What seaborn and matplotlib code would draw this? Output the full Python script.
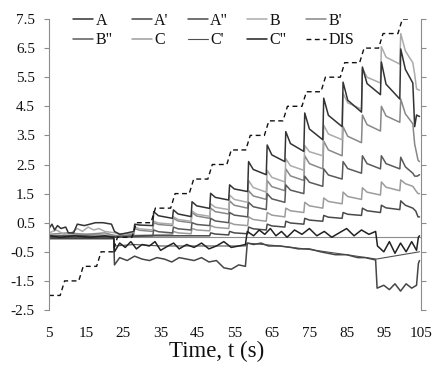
import matplotlib
matplotlib.use("Agg")
import matplotlib.pyplot as plt
import seaborn as sns
import pandas as pd

# ---------------- data ----------------
# times (s) at which the load steps / response jumps occur
JUMPS = [8.6, 13.6, 18.4, 22.8, 27.9, 33.0, 38.3, 43.3, 48.3, 53.4,
         58.5, 63.5, 68.5, 73.6, 78.7, 83.9, 89.1, 94.2, 99.4]
LAST_TROUGH_T = 102.8

DIS_t = [5, 8.0, 9.2, 13.0, 14.2, 17.8, 19.0, 22.2, 23.4, 27.3, 28.5, 32.4, 33.6,
         37.7, 38.9, 42.7, 43.9, 47.7, 48.9, 52.8, 54.0, 57.9, 59.1, 62.9, 64.1,
         67.9, 69.1, 73.0, 74.2, 78.1, 79.3, 83.3, 84.5, 88.5, 89.7, 93.6, 94.8,
         98.8, 100.0, 101.8]
DIS_v = [-2, -2, -1.5, -1.5, -1, -1, -0.5, -0.5, 0, 0, 0.5, 0.5, 1, 1, 1.5, 1.5,
         2, 2, 2.5, 2.5, 3, 3, 3.5, 3.5, 4, 4, 4.5, 4.5, 5, 5, 5.5, 5.5, 6, 6,
         6.5, 6.5, 7, 7, 7.5, 7.5]

# A : top dark saw-tooth
A_lead = [(5, 0.3), (5.8, 0.45), (6.5, 0.25), (7.3, 0.4), (8.2, 0.3), (9.5, 0.35),
          (10.2, 0.15), (11.6, 0.15), (12.6, 0.45), (14.5, 0.4), (16.0, 0.45),
          (17.5, 0.5), (19.5, 0.5), (21.8, 0.45), (22.6, 0.2), (24.0, 0.1),
          (26.0, 0.15), (27.8, 0.2)]
A_start = 4
A_peak = [0.45, 0.88, 0.94, 1.22, 1.51, 1.80, 2.60, 3.17, 3.63, 4.27, 4.78, 5.33, 5.85, 6.02, 6.47]
A_knee = [0.42, 0.74, 0.80, 1.08, 1.37, 1.66, 2.33, 2.83, 3.22, 3.72, 4.19, 4.71, 5.28, 5.26, 5.77]
A_trough = [0.40, 0.65, 0.71, 0.99, 1.28, 1.57, 2.15, 2.60, 2.95, 3.35, 3.80, 4.30, 4.90, 4.75, 5.30]
A_tail = [(103.3, 3.8), (103.8, 4.2), (104.6, 4.15)]

# B : light grey saw-tooth
B_lead = [(5, 0.15), (7, 0.25), (9, 0.1), (11, 0.15), (12.6, 0.3), (14, 0.2),
          (15.5, 0.35), (17, 0.25), (18.4, 0.3), (20, 0.2), (22.8, 0.15), (25, 0.1),
          (27.8, 0.15)]
B_start = 4
B_peak = [0.35, 0.55, 0.70, 0.90, 1.15, 1.45, 1.95, 2.30, 2.70, 3.15, 3.85, 4.95, 5.80, 6.55, 7.00]
B_knee = [0.29, 0.49, 0.61, 0.79, 1.03, 1.30, 1.71, 2.06, 2.46, 2.94, 3.55, 4.62, 5.50, 6.19, 6.40]
B_trough = [0.25, 0.45, 0.55, 0.72, 0.95, 1.20, 1.55, 1.90, 2.30, 2.80, 3.35, 4.40, 5.30, 5.95, 6.00]
B_tail = [(103.3, 5.6), (103.8, 5.1), (104.6, 5.05)]

# B' : medium grey saw-tooth
B1_lead = [(5, 0.1), (10, 0.15), (15, 0.1), (20, 0.15), (22.8, 0.05), (27.8, 0.1)]
B1_start = 4
B1_peak = [0.30, 0.50, 0.65, 0.85, 1.00, 1.25, 1.60, 1.95, 2.35, 2.80, 3.30, 3.80, 4.20, 4.50, 4.75]
B1_knee = [0.24, 0.44, 0.56, 0.73, 0.88, 1.10, 1.42, 1.74, 2.11, 2.53, 3.00, 3.47, 3.87, 4.17, 4.24]
B1_trough = [0.20, 0.40, 0.50, 0.65, 0.80, 1.00, 1.30, 1.60, 1.95, 2.35, 2.80, 3.25, 3.65, 3.95, 3.90]
B1_tail = [(103.3, 3.2), (104.2, 2.65), (104.6, 2.6)]

# B" : dark grey saw-tooth
B2_lead = [(5, 0.05), (15, 0.05), (22.8, 0.0), (32.9, 0.05)]
B2_start = 5
B2_peak = [0.25, 0.35, 0.50, 0.65, 0.85, 1.20, 1.50, 1.80, 2.10, 2.35, 2.60, 2.80, 2.80, 2.75]
B2_knee = [0.19, 0.29, 0.44, 0.56, 0.76, 1.05, 1.32, 1.62, 1.89, 2.14, 2.36, 2.53, 2.53, 2.42]
B2_trough = [0.15, 0.25, 0.40, 0.50, 0.70, 0.95, 1.20, 1.50, 1.75, 2.00, 2.20, 2.35, 2.35, 2.20]
B2_tail = [(103.3, 2.1), (104.0, 2.1), (104.6, 2.15)]

# C : grey saw-tooth
C_lead = [(5, 0.05), (15, 0.1), (25, 0.05), (38.2, 0.1)]
C_start = 6
C_peak = [0.20, 0.30, 0.40, 0.50, 0.70, 0.85, 1.00, 1.20, 1.35, 1.55, 1.70, 1.90, 1.97]
C_knee = [0.15, 0.25, 0.34, 0.44, 0.61, 0.76, 0.91, 1.08, 1.23, 1.40, 1.55, 1.72, 1.84]
C_trough = [0.12, 0.22, 0.30, 0.40, 0.55, 0.70, 0.85, 1.00, 1.15, 1.30, 1.45, 1.60, 1.75]
C_tail = [(103.6, 1.6), (104.2, 1.5), (104.6, 1.5)]

# A" : small dark saw-tooth
A2_lead = [(5, 0.0), (20, 0.0), (30, 0.05), (48.2, 0.05)]
A2_start = 8
A2_peak = [0.15, 0.20, 0.35, 0.45, 0.55, 0.65, 0.75, 0.85, 1.00, 1.10, 1.25]
A2_knee = [0.11, 0.15, 0.29, 0.39, 0.49, 0.59, 0.69, 0.79, 0.91, 1.01, 1.10]
A2_trough = [0.08, 0.12, 0.25, 0.35, 0.45, 0.55, 0.65, 0.75, 0.85, 0.95, 1.00]
A2_tail = [(103.6, 0.9), (104.2, 0.7), (104.6, 0.7)]

# C" : black, bumpy around zero
C2_pts = [(5, 0.05), (8, 0.0), (12, 0.05), (16, 0.0), (20, 0.05), (22.4, 0.0),
          (22.6, -0.5), (24, -0.2), (25.5, -0.35), (27, -0.15), (28.5, -0.4),
          (30, -0.25), (32, -0.3), (33.5, -0.15), (35, -0.45), (37, -0.3),
          (38.5, -0.2), (40, -0.4), (42, -0.25), (44, -0.35), (46, -0.2),
          (48, -0.4), (50, -0.3), (52, -0.15), (54, -0.35), (56, -0.3),
          (57.8, -0.25), (58.3, 0.2), (60, 0.05), (61.5, 0.25), (63, 0.1),
          (64.5, 0.3), (66, 0.05), (67.5, 0.2), (69, 0.0), (71, 0.25), (73, 0.1),
          (75, 0.3), (77, 0.05), (79, 0.2), (81, 0.0), (83, 0.15), (85, 0.3),
          (87, 0.05), (89, 0.25), (91, 0.1), (92.8, 0.2), (93.3, -0.3),
          (95, -0.5), (96.5, -0.15), (98, -0.55), (99.5, -0.2), (101, -0.5),
          (102.5, -0.15), (103.8, -0.45), (104.3, 0.0), (104.6, 0.05)]

# A' : lowest black line
A1_pts = [(5, -0.05), (10, -0.05), (15, -0.05), (22.4, -0.05), (22.6, -0.95),
          (24, -0.7), (26, -0.8), (28, -0.65), (30, -0.75), (32, -0.8), (34, -0.7),
          (36, -0.75), (38, -0.85), (40, -0.7), (42, -0.75), (44, -0.8), (46, -0.7),
          (48, -0.85), (50, -0.8), (52, -1.05), (54, -1.1), (56, -0.95),
          (57.8, -1.0), (58.3, -0.2), (60, -0.25), (62, -0.2), (64, -0.3),
          (67, -0.3), (70, -0.35), (72, -0.4), (75, -0.4), (78, -0.5), (80, -0.55),
          (82, -0.6), (85, -0.6), (88, -0.7), (90, -0.7), (92.8, -0.78),
          (93.2, -1.75), (95, -1.65), (96.5, -1.8), (98, -1.6), (99.5, -1.85),
          (101, -1.6), (102.5, -1.75), (103.8, -1.65), (104.3, -0.9), (104.6, -0.8)]

# C' : smooth thin line
C1_pts = [(5, 0.0), (22.4, 0.0), (22.6, -0.3), (28, -0.25), (35, -0.3), (45, -0.3),
          (57.8, -0.3), (58.3, -0.2), (67, -0.3), (75, -0.42), (85, -0.6),
          (93, -0.75), (104.6, -0.5)]

COLORS = {"A": "#333333", "A'": "#464646", 'A"': "#4a4a4a", "B": "#ababab",
          "B'": "#888888", 'B"': "#5a5a5a", "C": "#9c9c9c", "C'": "#505050",
          'C"': "#222222", "DIS": "#111111"}


def saw(lead, start, peak, knee, trough, tail):
    t = [p[0] for p in lead]
    v = [p[1] for p in lead]
    for i in range(len(peak)):
        k = start + i
        j = JUMPS[k]
        end = JUMPS[k + 1] - 0.1 if k + 1 < len(JUMPS) else LAST_TROUGH_T
        t += [j + 0.15, j + 1.4, end]
        v += [peak[i], knee[i], trough[i]]
    t += [p[0] for p in tail]
    v += [p[1] for p in tail]
    return t, v


def pts(p):
    return [a for a, _ in p], [b for _, b in p]


series = {
    "A": saw(A_lead, A_start, A_peak, A_knee, A_trough, A_tail),
    "B": saw(B_lead, B_start, B_peak, B_knee, B_trough, B_tail),
    "B'": saw(B1_lead, B1_start, B1_peak, B1_knee, B1_trough, B1_tail),
    'B"': saw(B2_lead, B2_start, B2_peak, B2_knee, B2_trough, B2_tail),
    "C": saw(C_lead, C_start, C_peak, C_knee, C_trough, C_tail),
    'A"': saw(A2_lead, A2_start, A2_peak, A2_knee, A2_trough, A2_tail),
    'C"': pts(C2_pts),
    "A'": pts(A1_pts),
    "C'": pts(C1_pts),
    "DIS": (DIS_t, DIS_v),
}

# ---------------- drawing ----------------
sns.set_theme(style="white")
plt.rcParams["font.family"] = ["Liberation Serif", "DejaVu Serif"]

fig = plt.figure(figsize=(4.36, 3.69), dpi=100)
ax = fig.add_axes([49 / 436, 1 - 310 / 369, 372 / 436, 291 / 369])

draw_order = ["C", "B'", "B", 'B"', 'A"', "C'", "A'", 'C"', "A", "DIS"]
handles = {}
for name in draw_order:
    t, v = series[name]
    df = pd.DataFrame({"t": t, "v": v})
    kw = dict(lw=1.1)
    if name == "DIS":
        kw = dict(lw=1.0, linestyle=(0, (3.5, 2.5)))
    if name == "C'":
        kw = dict(lw=0.8)
    sns.lineplot(data=df, x="t", y="v", ax=ax, color=COLORS[name],
                 estimator=None, sort=False, label=name, **kw)
    handles[name] = ax.get_lines()[-1]

ax.axhline(0, color="#8c8c8c", lw=0.8, zorder=0.5)

ax.set_xlim(5, 105)
ax.set_ylim(-2.5, 7.5)
ax.set_xticks(range(5, 106, 10))
ax.set_yticks([-2.5 + i for i in range(11)])
ax.set_yticklabels([f"{-2.5 + i:.1f}" for i in range(11)])
ax.set_xlabel("Time, t (s)", fontsize=16.5, color="#111111")
ax.xaxis.set_label_coords((216.5 - 49) / 372, -0.105)
ax.set_ylabel("")

for s in ["top", "bottom"]:
    ax.spines[s].set_visible(False)
for s in ["left", "right"]:
    ax.spines[s].set_visible(True)
    ax.spines[s].set_color("#8c8c8c")
    ax.spines[s].set_linewidth(0.8)

ax.tick_params(axis="x", length=0, pad=12, labelsize=11, labelcolor="#111111")
ax.tick_params(axis="y", left=True, right=True, labelright=False, direction="out",
               length=3.6, width=0.8, color="#8c8c8c", pad=6.5, labelsize=11,
               labelcolor="#111111")
ax.grid(False)

# legend, row-major display in 2 rows x 5 columns
col_major = ["A", 'B"', "A'", "C", 'A"', "C'", "B", 'C"', "B'", "DIS"]
leg = ax.legend([handles[n] for n in col_major], col_major, ncol=5,
                loc="upper left", bbox_to_anchor=((73 - 49) / 372, 1.022),
                frameon=False, fontsize=11.5, handlelength=1.25,
                handletextpad=0.15, columnspacing=1.2, labelspacing=0.22,
                borderpad=0, borderaxespad=0)
for txt in leg.get_texts():
    txt.set_color("#111111")

fig.savefig("out.png", dpi=100)
